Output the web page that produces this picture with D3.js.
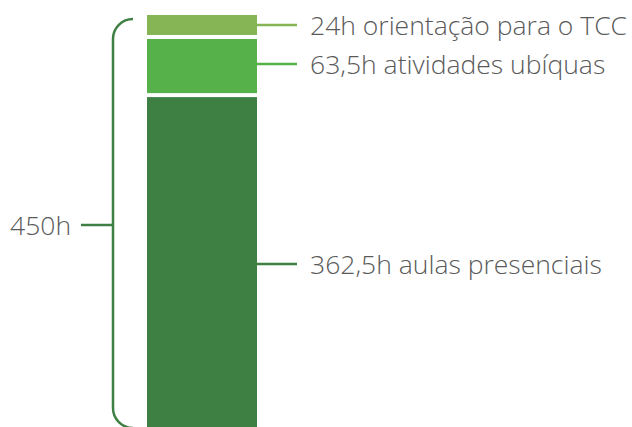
<!DOCTYPE html>
<html>
<head>
<meta charset="utf-8">
<script src="https://cdn.jsdelivr.net/npm/d3@7"></script>
<style>
  body { margin: 0; background: #fff; }
  text { font-family: "Open Sans", sans-serif; font-weight: 300; fill: #5a5a5a; }
</style>
</head>
<body>
<svg width="632" height="427"></svg>
<script>
// carga horaria, de baixo para cima
let hours = [362.5, 63.5, 24]
let labels = ['362,5h aulas presenciais', '63,5h atividades ubíquas', '24h orientação para o TCC']
let colors = ['#3e7f44', '#57b14b', '#86b556']
let totalLabel = '450h'

let svg = d3.select('svg')
let total = d3.sum(hours)

let y = d3.scaleLinear().domain([0, total]).range([427, 15])
let barX = 147, barW = 110, gap = 4

// pilha
let stack = []
let acc = 0
hours.forEach((h, i) => {
    stack.push({ v0: acc, v1: acc + h, label: labels[i], color: colors[i] })
    acc += h
})

let seg = svg.selectAll('g.seg').data(stack).enter().append('g').attr('class', 'seg')

seg.append('rect')
    .attr('x', barX)
    .attr('width', barW)
    .attr('y', (d, i) => y(d.v1) + (i < stack.length - 1 ? gap / 2 : 0))
    .attr('height', (d, i) => {
        let top = y(d.v1) + (i < stack.length - 1 ? gap / 2 : 0)
        let bot = y(d.v0) - (i > 0 ? gap / 2 : 0)
        return bot - top
    })
    .attr('fill', d => d.color)

// linhas de chamada
let lineY = [264, 64, 25]
seg.append('line')
    .attr('x1', (d, i) => i == 1 ? 247 : barX + barW)
    .attr('x2', 297)
    .attr('y1', (d, i) => lineY[i])
    .attr('y2', (d, i) => lineY[i])
    .attr('stroke', d => d.color)
    .attr('stroke-width', 2.5)

seg.append('text')
    .attr('x', 310)
    .attr('y', (d, i) => lineY[i] + 9.5)
    .attr('font-size', 26.5)
    .text(d => d.label)

// chave
let bx = 113, r = 20
let bTop = y(total) + 4, bBot = 428
svg.append('path')
    .attr('d', `M${bx + r},${bTop} A${r},${r} 0 0 0 ${bx},${bTop + r} L${bx},${bBot - r} A${r},${r} 0 0 0 ${bx + r},${bBot}`)
    .attr('fill', 'none')
    .attr('stroke', '#3e7f44')
    .attr('stroke-width', 2.5)

svg.append('line')
    .attr('x1', 81).attr('x2', bx)
    .attr('y1', 225).attr('y2', 225)
    .attr('stroke', '#3e7f44')
    .attr('stroke-width', 2.5)

svg.append('text')
    .attr('x', 10)
    .attr('y', 234.5)
    .attr('font-size', 26.5)
    .text(totalLabel)
</script>
</body>
</html>
